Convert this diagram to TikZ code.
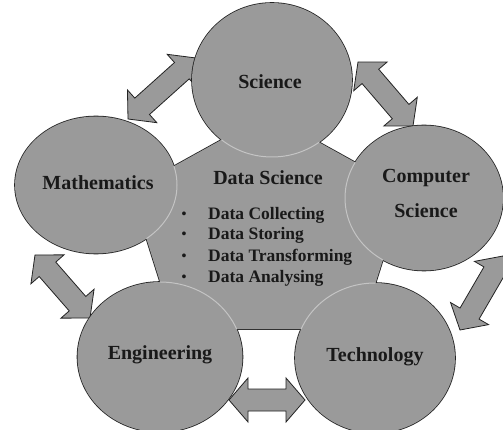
\documentclass[tikz,border=0pt]{standalone}
\usepackage{fontspec}
\setmainfont{Liberation Serif}
\usetikzlibrary{calc,shapes.geometric}

\definecolor{discgray}{RGB}{154,154,154}
\definecolor{rimdark}{RGB}{35,35,35}
\definecolor{rimlight}{RGB}{196,196,196}
\definecolor{inkdark}{RGB}{25,25,25}

% block double arrow between two named coordinates
\newcommand\arrHeadLen{19pt}
\newcommand\arrHeadHalf{22pt}
\newcommand\arrShaftHalf{11pt}
\newcommand\blockarrow[2]{%
  \filldraw[blockarrowstyle] (#1)
    -- ($(#1)!\arrHeadLen!(#2)!\arrHeadHalf!90:(#2)$)
    -- ($(#1)!\arrHeadLen!(#2)!\arrShaftHalf!90:(#2)$)
    -- ($(#2)!\arrHeadLen!(#1)!\arrShaftHalf!-90:(#1)$)
    -- ($(#2)!\arrHeadLen!(#1)!\arrHeadHalf!-90:(#1)$)
    -- (#2)
    -- ($(#2)!\arrHeadLen!(#1)!\arrHeadHalf!90:(#1)$)
    -- ($(#2)!\arrHeadLen!(#1)!\arrShaftHalf!90:(#1)$)
    -- ($(#1)!\arrHeadLen!(#2)!\arrShaftHalf!-90:(#2)$)
    -- ($(#1)!\arrHeadLen!(#2)!\arrHeadHalf!-90:(#2)$)
    -- cycle;}

% outline of an ellipse node, read back from its anchors
\newcommand\discpath[1]{let \p1=($(#1.east)-(#1.center)$), \p2=($(#1.north)-(#1.center)$) in (#1.center) ellipse [x radius=\x1, y radius=\y2]}
\newcommand\hubpath{(p1) -- (p2) -- (p3) -- (p4) -- (p5) -- cycle}

\tikzset{
  blockarrowstyle/.style={fill=discgray, draw=rimdark, line width=0.8pt, line join=miter},
  disc/.style={ellipse, draw=rimdark, line width=1.6pt, inner sep=0pt, outer sep=0pt},
  softrim/.style={draw=rimlight, line width=1pt},
  tag/.style={font=\fontsize{20}{24}\selectfont\bfseries, text=inkdark, anchor=base, inner sep=0pt},
  item/.style={font=\fontsize{17.5}{21}\selectfont\bfseries, text=inkdark, anchor=base west, inner sep=0pt},
  dot/.style={font=\fontsize{14}{16}\selectfont\bfseries, text=inkdark, anchor=base, inner sep=0pt}
}

\begin{document}
\begin{tikzpicture}[x=1pt,y=-1pt]
\useasboundingbox (0,0) rectangle (503,430);
\fill[white] (0,0) rectangle (503,430);
\clip (0,0) rectangle (503,430);

% arrow end points
\coordinate (ms1) at (128,119);  \coordinate (ms2) at (196,58);
\coordinate (sc1) at (358,62);   \coordinate (sc2) at (413,126);
\coordinate (me1) at (35,255);   \coordinate (me2) at (90,318);
\coordinate (ct1) at (460,330);  \coordinate (ct2) at (503,256);
\coordinate (et1) at (229,400);  \coordinate (et2) at (305,400);

\blockarrow{ms1}{ms2}
\blockarrow{sc1}{sc2}
\blockarrow{me1}{me2}
\blockarrow{ct1}{ct2}
\blockarrow{et1}{et2}

% central pentagon corners
\coordinate (p1) at (268,114);
\coordinate (p2) at (405,190);
\coordinate (p3) at (361,329);
\coordinate (p4) at (175,329);
\coordinate (p5) at (131,190);

% dark rims of all shapes
\draw[rimdark, line width=1.6pt, line join=miter] \hubpath;
\node[disc, minimum width=160pt, minimum height=154pt] (sci) at (272,80) {};
\node[disc, minimum width=162pt, minimum height=137pt] (mat) at (96,185) {};
\node[disc, minimum width=158pt, minimum height=145pt] (csc) at (424,198) {};
\node[disc, minimum width=165pt, minimum height=150pt] (eng) at (160,357) {};
\node[disc, minimum width=160pt, minimum height=150pt] (tec) at (375,358) {};

% fills over the inner halves of the rims
\fill[discgray] \hubpath;
\foreach \dsc in {sci,mat,csc,eng,tec} \fill[discgray] \discpath{\dsc};

% light rims of the circles where they lie over the pentagon
\begin{scope}
  \clip \hubpath;
  \foreach \dsc in {sci,mat,csc,eng,tec} \path[softrim] \discpath{\dsc};
\end{scope}

% labels
\node[tag] (scilbl) at (270,89) {Science};
\node[tag] (matlbl) at (98,190) {Mathematics};
\node[tag] (csclbl1) at (426,183) {Computer};
\node[tag] (csclbl2) at (426,218) {Science};
\node[tag] (englbl) at (160,359) {Engineering};
\node[tag] (teclbl) at (375,361) {Technology};
\node[tag] (dslbl) at (268,185) {Data Science};

% task list
\foreach \y/\t [count=\i] in {220/Data Collecting, 240/Data Storing, 261.5/Data Transforming, 283/Data Analysing}{
  \node[dot] (b\i) at (184,\y-1) {\textbullet};
  \node[item] (t\i) at (208,\y) {\t};
}
\end{tikzpicture}
\end{document}
